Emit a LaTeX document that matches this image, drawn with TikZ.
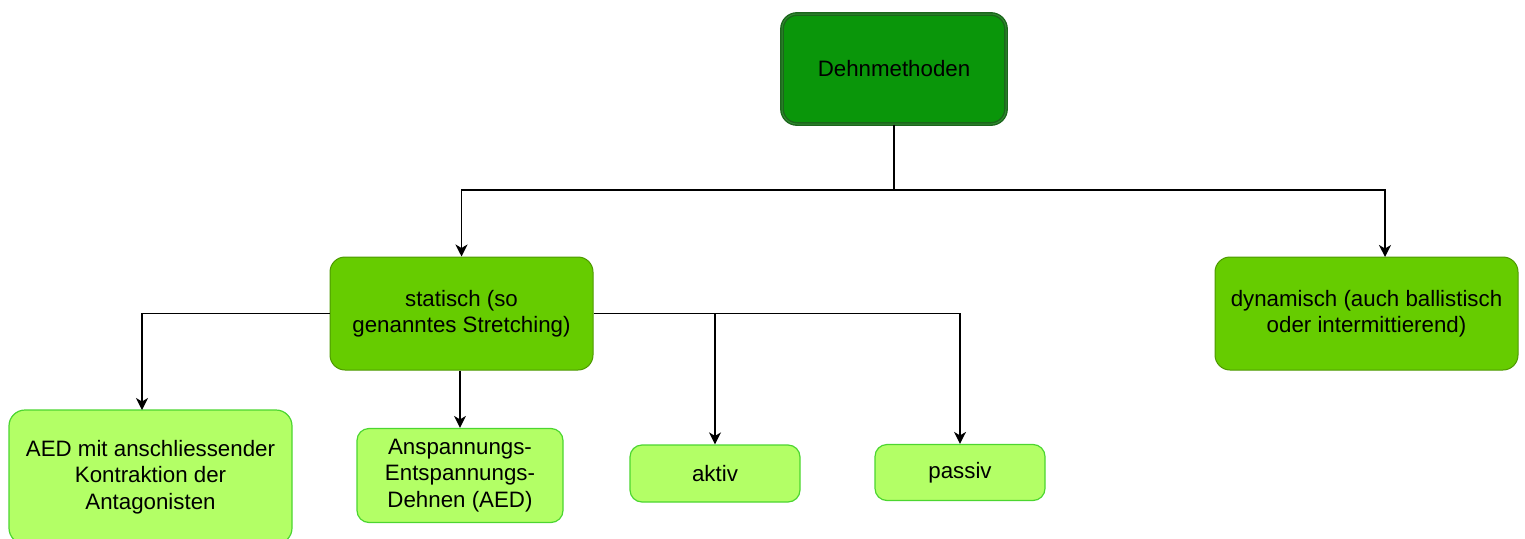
\documentclass[tikz,border=0pt]{standalone}
\usepackage{fontspec}
\setmainfont{Liberation Sans}
\usetikzlibrary{arrows.meta}
\definecolor{topfill}{HTML}{0A960A}
\definecolor{topstroke}{HTML}{1B661B}
\definecolor{topdouble}{HTML}{2F8A2F}
\definecolor{midfill}{HTML}{66CC00}
\definecolor{midstroke}{HTML}{4D9900}
\definecolor{leaffill}{HTML}{B3FF66}
\definecolor{leafstroke}{HTML}{4CD630}
\tikzset{
  boxbase/.style={rounded corners=12pt, align=center, inner sep=0pt, text=black,
    font=\fontsize{22.3}{26.5}\selectfont},
  topbox/.style={boxbase, fill=topfill, draw=topstroke, line width=1.4pt,
    double=topdouble, double distance=1pt, rounded corners=15pt},
  midbox/.style={boxbase, fill=midfill, draw=midstroke, line width=1pt, rounded corners=15pt},
  leafbox/.style={boxbase, fill=leaffill, draw=leafstroke, line width=1.2pt},
  arr/.style={draw=black, line width=1.4pt, -{Stealth[length=12pt,width=12pt,inset=3.5pt]}},
  ln/.style={draw=black, line width=1.4pt}
}
\begin{document}
\begin{tikzpicture}[x=1pt,y=-1pt]
\useasboundingbox (0,0) rectangle (1525,538);
\node[topbox, minimum width=224, minimum height=110] (top) at (894,69) {Dehnmethoden};
\node[midbox, minimum width=263, minimum height=113] (stat) at (461.5,313.5) {statisch (so\\genanntes Stretching)};
\node[midbox, minimum width=303, minimum height=113] (dyn) at (1366.5,313.5) {dynamisch (auch ballistisch\\oder intermittierend)};
\node[leafbox, rounded corners=16pt, minimum width=283, minimum height=134] (aed) at (150.5,477) {AED mit anschliessender\\Kontraktion der\\Antagonisten};
\node[leafbox, minimum width=206, minimum height=94] (ansp) at (460,475.5) {Anspannungs-\\Entspannungs-\\Dehnen (AED)};
\node[leafbox, minimum width=170, minimum height=57] (aktiv) at (715,473.5) {aktiv};
\node[leafbox, minimum width=170, minimum height=56] (passiv) at (960,472.5) {passiv};
\coordinate (j1) at (894,190);
\coordinate (dynin) at (1385,257);
\coordinate (aedin) at (142,410);
\draw[ln] (top.south) -- (j1);
\draw[arr] (j1) -| (stat.north);
\draw[arr] (j1) -| (dynin);
\draw[arr] (stat.west) -| (aedin);
\draw[arr] (stat.south -| ansp.north) -- (ansp.north);
\draw[arr] (stat.east) -| (passiv.north);
\draw[arr] (stat.east -| aktiv.north) -- (aktiv.north);
\end{tikzpicture}
\end{document}
